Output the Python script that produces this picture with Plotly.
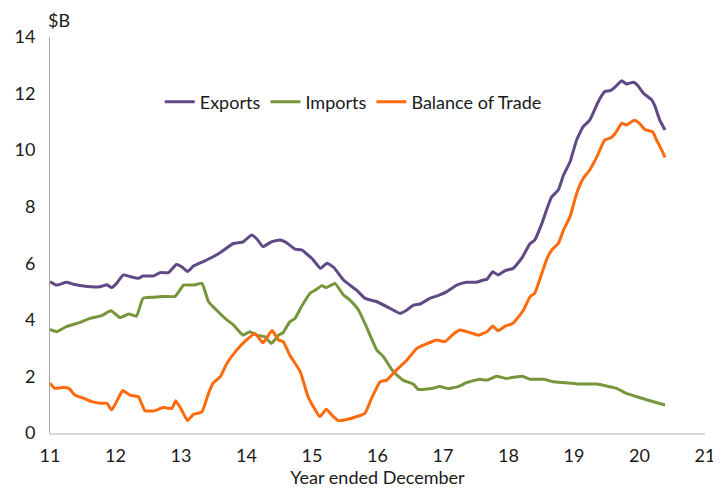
import plotly.graph_objects as go

# Exports ($B), year ended December
exp_x = [11.0, 11.10, 11.25, 11.36, 11.51, 11.76, 11.87, 11.94, 12.02, 12.12, 12.22, 12.35, 12.42, 12.58,
         12.68, 12.81, 12.93, 13.01, 13.10, 13.19, 13.34, 13.49, 13.62, 13.80, 13.95, 14.08, 14.16, 14.25,
         14.38, 14.51, 14.61, 14.74, 14.84, 15.00, 15.13, 15.23, 15.33, 15.48, 15.68, 15.81, 15.99, 16.19,
         16.34, 16.45, 16.55, 16.65, 16.80, 16.95, 17.06, 17.21, 17.36, 17.51, 17.62, 17.67, 17.76, 17.84,
         17.95, 18.07, 18.20, 18.33, 18.40, 18.51, 18.58, 18.66, 18.76, 18.84, 18.94, 19.04, 19.14, 19.24,
         19.37, 19.47, 19.55, 19.63, 19.73, 19.80, 19.91, 19.98, 20.06, 20.19, 20.24, 20.31, 20.39]
exp_y = [5.35, 5.23, 5.33, 5.26, 5.20, 5.17, 5.24, 5.14, 5.30, 5.59, 5.53, 5.47, 5.55, 5.55,
         5.67, 5.67, 5.96, 5.88, 5.71, 5.90, 6.06, 6.23, 6.41, 6.70, 6.76, 7.00, 6.86, 6.59,
         6.76, 6.82, 6.73, 6.50, 6.47, 6.17, 5.82, 6.00, 5.86, 5.41, 5.05, 4.76, 4.64, 4.41,
         4.23, 4.35, 4.52, 4.56, 4.76, 4.88, 5.00, 5.23, 5.33, 5.33, 5.41, 5.43, 5.70, 5.59,
         5.74, 5.82, 6.17, 6.70, 6.82, 7.41, 7.88, 8.35, 8.59, 9.12, 9.59, 10.36, 10.83, 11.06,
         11.71, 12.07, 12.10, 12.24, 12.45, 12.34, 12.40, 12.27, 12.01, 11.77, 11.53, 11.06, 10.71]

# Imports ($B)
imp_x = [11.0, 11.10, 11.25, 11.46, 11.61, 11.79, 11.93, 12.07, 12.20, 12.32, 12.42, 12.58, 12.73, 12.91,
         13.04, 13.19, 13.32, 13.42, 13.54, 13.70, 13.80, 13.95, 14.05, 14.15, 14.28, 14.38, 14.49, 14.56,
         14.66, 14.74, 14.84, 14.97, 15.07, 15.15, 15.22, 15.35, 15.48, 15.58, 15.71, 15.83, 15.99, 16.09,
         16.24, 16.39, 16.55, 16.62, 16.83, 16.95, 17.08, 17.23, 17.36, 17.56, 17.67, 17.82, 17.96, 18.21,
         18.33, 18.54, 18.68, 18.88, 19.09, 19.35, 19.50, 19.65, 19.80, 19.96, 20.16, 20.39]
imp_y = [3.66, 3.58, 3.76, 3.91, 4.05, 4.15, 4.32, 4.08, 4.21, 4.13, 4.76, 4.80, 4.83, 4.83,
         5.23, 5.23, 5.29, 4.64, 4.35, 4.00, 3.82, 3.46, 3.58, 3.46, 3.40, 3.17, 3.46, 3.55,
         3.93, 4.05, 4.47, 4.94, 5.08, 5.21, 5.14, 5.29, 4.88, 4.70, 4.35, 3.76, 2.93, 2.70,
         2.17, 1.87, 1.72, 1.54, 1.57, 1.64, 1.57, 1.64, 1.78, 1.90, 1.87, 2.01, 1.93, 2.01,
         1.90, 1.90, 1.81, 1.78, 1.73, 1.73, 1.66, 1.58, 1.40, 1.28, 1.14, 0.99]

# Balance of Trade ($B)
bal_x = [11.0, 11.07, 11.20, 11.29, 11.38, 11.51, 11.64, 11.76, 11.87, 11.94, 12.03, 12.11, 12.22, 12.35,
         12.45, 12.58, 12.73, 12.86, 12.92, 13.01, 13.10, 13.19, 13.32, 13.42, 13.49, 13.60, 13.70, 13.85,
         14.00, 14.13, 14.25, 14.39, 14.49, 14.56, 14.66, 14.82, 14.94, 15.02, 15.12, 15.22, 15.30, 15.40,
         15.53, 15.71, 15.81, 15.91, 16.04, 16.14, 16.29, 16.45, 16.60, 16.75, 16.90, 17.03, 17.16, 17.26,
         17.41, 17.54, 17.67, 17.76, 17.84, 17.95, 18.07, 18.23, 18.33, 18.40, 18.51, 18.58, 18.66, 18.76,
         18.84, 18.94, 19.04, 19.14, 19.24, 19.35, 19.47, 19.55, 19.63, 19.73, 19.80, 19.92, 20.00, 20.08,
         20.20, 20.26, 20.34, 20.39]
bal_y = [1.76, 1.58, 1.61, 1.58, 1.34, 1.23, 1.11, 1.05, 1.05, 0.81, 1.17, 1.50, 1.34, 1.28,
         0.79, 0.78, 0.90, 0.87, 1.14, 0.81, 0.44, 0.66, 0.75, 1.40, 1.76, 1.99, 2.46, 2.93,
         3.29, 3.52, 3.19, 3.62, 3.29, 3.23, 2.76, 2.17, 1.28, 0.93, 0.58, 0.84, 0.64, 0.44,
         0.48, 0.60, 0.70, 1.23, 1.81, 1.87, 2.23, 2.58, 2.99, 3.15, 3.29, 3.23, 3.50, 3.64,
         3.55, 3.46, 3.58, 3.78, 3.62, 3.78, 3.88, 4.35, 4.82, 4.94, 5.65, 6.12, 6.47, 6.70,
         7.18, 7.65, 8.47, 9.00, 9.30, 9.77, 10.36, 10.42, 10.59, 10.95, 10.89, 11.06, 10.95, 10.73,
         10.65, 10.36, 10.00, 9.74]

x_ticks = list(range(11, 22))
y_ticks = list(range(0, 15, 2))

FONT = "Lato"
FS = 18
TXT = "#1a1a1a"
fig = go.Figure()
fig.add_trace(go.Scatter(x=exp_x, y=exp_y, name="Exports", mode="lines",
                         line=dict(color="#5F4A86", width=3, shape="spline", smoothing=0.4)))
fig.add_trace(go.Scatter(x=imp_x, y=imp_y, name="Imports", mode="lines",
                         line=dict(color="#77953B", width=3, shape="spline", smoothing=0.4)))
fig.add_trace(go.Scatter(x=bal_x, y=bal_y, name="Balance of Trade", mode="lines",
                         line=dict(color="#FF6A0D", width=3, shape="spline", smoothing=0.4)))

# page has an 8px body margin, so the figure is sized to fit the window
fig.update_layout(
    width=713, height=481,
    margin=dict(l=42, r=16, t=29, b=56),
    paper_bgcolor="white", plot_bgcolor="white",
    font=dict(family=FONT, size=FS, color=TXT),
    showlegend=True,
    legend=dict(orientation="h", x=0.463, y=0.836, xanchor="center", yanchor="middle",
                font=dict(family=FONT, size=FS, color=TXT),
                itemwidth=30, bgcolor="rgba(0,0,0,0)", tracegroupgap=0),
    xaxis=dict(range=[11, 21], tickmode="array", tickvals=x_ticks,
               ticktext=[str(t) for t in x_ticks], automargin=False,
               showgrid=False, zeroline=False, showline=True, linecolor="#d9d9d9", linewidth=1.5,
               ticks="", ticklabelstandoff=6, tickfont=dict(family=FONT, size=FS, color=TXT),
               title=dict(text="Year ended December", font=dict(family=FONT, size=FS, color=TXT),
                          standoff=2)),
    yaxis=dict(range=[0, 14], tickmode="array", tickvals=y_ticks, automargin=False,
               showgrid=False, zeroline=False, showline=True, linecolor="#a6a6a6", linewidth=1,
               ticks="", ticklabelstandoff=10,
               tickfont=dict(family=FONT, size=FS, color=TXT)),
    annotations=[dict(text="$B", xref="paper", yref="paper", x=-0.005, y=1.0, yshift=5,
                      xanchor="left", yanchor="bottom", showarrow=False, borderpad=0,
                      font=dict(family=FONT, size=FS, color=TXT))],
)

fig.write_html("out.html")
